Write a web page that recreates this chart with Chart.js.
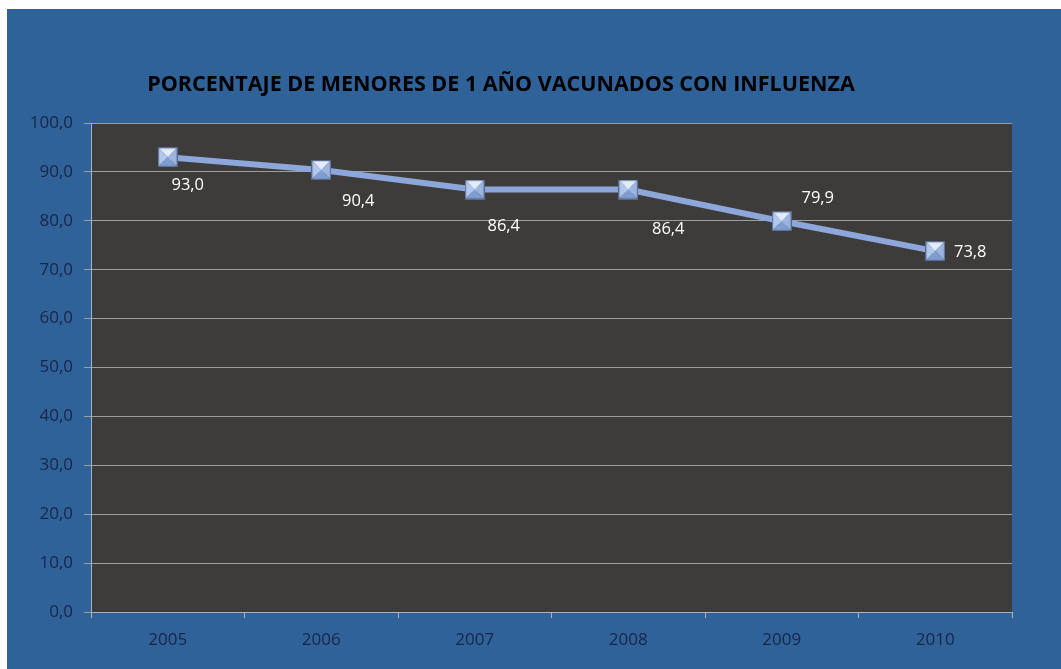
<!DOCTYPE html>
<html>
<head>
<meta charset="utf-8">
<script src="https://cdn.jsdelivr.net/npm/chart.js@4"></script>
<style>
  html, body { margin: 0; padding: 0; background: #ffffff; }
  #wrap { position: absolute; left: 7px; top: 9px; width: 1054px; height: 660px; background: #2f6298; }
</style>
</head>
<body>
<div id="wrap"><canvas id="chart" width="1054" height="660"></canvas></div>
<script>
// data
const years = ['2005', '2006', '2007', '2008', '2009', '2010'];
const vacunados = [93.0, 90.4, 86.4, 86.4, 79.9, 73.8];
const chartTitle = 'PORCENTAJE DE MENORES DE 1 AÑO VACUNADOS CON INFLUENZA';

// where each value label sits relative to its point (px)
const labelOffsets = [[20, 28], [37, 31], [29, 37], [40, 40], [36, -23], [35, 1]];

const fmt = v => v.toFixed(1).replace('.', ',');

// bevelled square marker
const makeMarker = () => {
    const c = document.createElement('canvas');
    c.width = 20; c.height = 20;
    const g = c.getContext('2d');
    const s = 20, m = 10;
    const tri = (pts, col) => {
        g.beginPath();
        g.moveTo(pts[0][0], pts[0][1]);
        pts.slice(1).forEach(p => g.lineTo(p[0], p[1]));
        g.closePath();
        g.fillStyle = col;
        g.fill();
    };
    tri([[0, 0], [s, 0], [m, m]], '#e2ecfc');
    tri([[0, 0], [0, s], [m, m]], '#b2c7ec');
    tri([[s, 0], [s, s], [m, m]], '#9db4de');
    tri([[0, s], [s, s], [m, m]], '#7f9dd0');
    g.strokeStyle = '#55698f';
    g.lineWidth = 1.2;
    g.strokeRect(0.6, 0.6, s - 1.2, s - 1.2);
    return c;
};

const plotBg = {
    id: 'plotBg',
    beforeDraw(chart) {
        const { ctx, chartArea: a } = chart;
        ctx.save();
        ctx.fillStyle = '#3d3c3a';
        ctx.fillRect(a.left, a.top, a.right - a.left, a.bottom - a.top);
        ctx.restore();
    }
};

// title drawn by hand so it sits where the original one does
const titleText = {
    id: 'titleText',
    afterDraw(chart) {
        const { ctx } = chart;
        ctx.save();
        ctx.fillStyle = '#000000';
        ctx.font = 'bold 21.5px "Open Sans"';
        ctx.textAlign = 'center';
        ctx.textBaseline = 'middle';
        ctx.fillText(chartTitle, 494, 76);
        ctx.restore();
    }
};

const valueLabels = {
    id: 'valueLabels',
    afterDatasetsDraw(chart) {
        const { ctx } = chart;
        const meta = chart.getDatasetMeta(0);
        ctx.save();
        ctx.fillStyle = '#ffffff';
        ctx.font = '16.5px "Open Sans"';
        ctx.textAlign = 'center';
        ctx.textBaseline = 'middle';
        meta.data.forEach((pt, i) => {
            const off = labelOffsets[i];
            ctx.fillText(fmt(vacunados[i]), pt.x + off[0], pt.y + off[1]);
        });
        ctx.restore();
    }
};

const tickColor = '#1a2547';

new Chart(document.getElementById('chart'), {
    type: 'line',
    data: {
        labels: years,
        datasets: [{
            data: vacunados,
            borderColor: '#8ea7db',
            borderWidth: 6,
            pointStyle: makeMarker(),
            pointRadius: 10,
            tension: 0
        }]
    },
    options: {
        responsive: false,
        animation: false,
        layout: { padding: { top: 114, right: 49, left: 0, bottom: 0 } },
        plugins: {
            legend: { display: false },
            tooltip: { enabled: false },
            title: { display: false }
        },
        scales: {
            x: {
                offset: true,
                grid: { offset: true, drawOnChartArea: false, drawTicks: true, tickLength: 6, color: '#a7b3c4' },
                border: { color: '#a7b3c4', width: 1 },
                ticks: { color: tickColor, font: { family: 'Open Sans', size: 17 }, padding: 12 },
                afterFit(scale) { scale.height = 57; }
            },
            y: {
                min: 0,
                max: 100,
                grid: { color: '#9e9e9e', tickLength: 7, lineWidth: 1 },
                border: { color: '#a7b3c4', width: 1 },
                ticks: {
                    stepSize: 10,
                    color: tickColor,
                    font: { family: 'Open Sans', size: 17 },
                    padding: 11,
                    callback: v => fmt(v)
                },
                afterFit(scale) { scale.width = 84; }
            }
        }
    },
    plugins: [plotBg, titleText, valueLabels]
});
</script>
</body>
</html>
